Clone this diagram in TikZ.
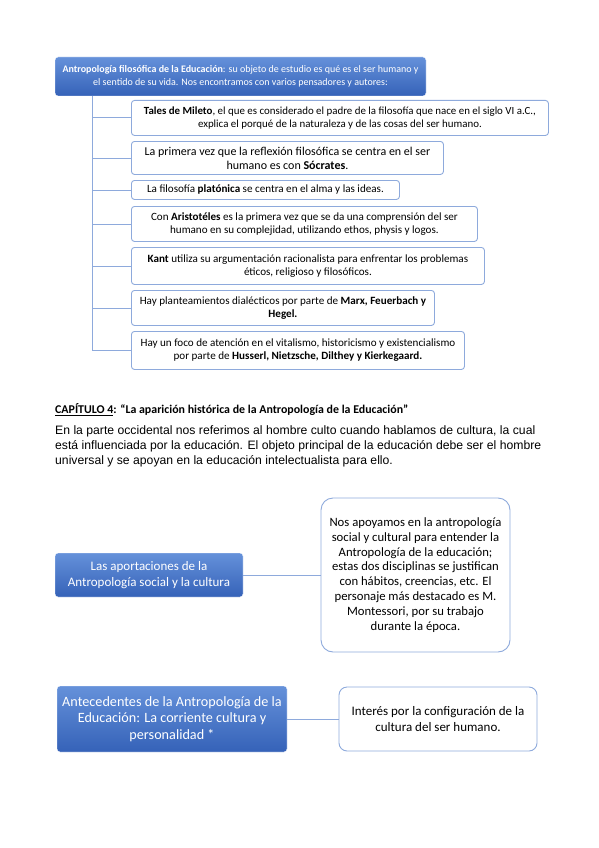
\documentclass[tikz,border=0pt]{standalone}
\usepackage{fontspec}
\setmainfont{Carlito}
\newfontfamily\arialfont{Liberation Sans}
\usetikzlibrary{positioning}
\definecolor{bluetop}{HTML}{6591DA}
\definecolor{bluebot}{HTML}{3562B8}
\definecolor{framec}{HTML}{8EAADC}

\begin{document}
\begin{tikzpicture}[x=1pt,y=-1pt]
\tikzstyle{topic}=[rectangle,rounded corners=3pt,top color=bluetop,bottom color=bluebot,draw=white,text=white,align=center,inner sep=0pt]
\tikzstyle{box}=[rectangle,rounded corners=3pt,draw=framec,line width=0.9pt,fill=white,align=center,inner sep=0pt,anchor=north west,font=\fontsize{11.1}{13}\selectfont]
\tikzstyle{link}=[draw=framec,line width=0.9pt,to path={-| (\tikztotarget) \tikztonodes}]
\tikzstyle{line}=[draw=framec,line width=0.9pt]
\useasboundingbox (0,0) rectangle (599,848);
% author list
\coordinate (spine) at (92,96);
\node [topic,minimum width=371pt,minimum height=39pt,font=\fontsize{10}{13}\selectfont] (n0) at (240.5,76.5) {\textbf{Antropología filosófica de la Educación}: su objeto de estudio es qué es el ser humano y\\el sentido de su vida. Nos encontramos con varios pensadores y autores:};
\node (n1) [box,minimum width=417pt,minimum height=35pt,font=\fontsize{10.9}{13}\selectfont] at (131,100) {\textbf{Tales de Mileto}, el que es considerado el padre de la filosofía que nace en el siglo VI a.C.,\\explica el porqué de la naturaleza y de las cosas del ser humano.} edge [link] (spine);
\node (n2) [box,minimum width=312pt,minimum height=33pt,font=\fontsize{12}{14}\selectfont] at (131,141) {La primera vez que la reflexión filosófica se centra en el ser\\humano es con \textbf{Sócrates}.} edge [link] (spine);
\node (n3) [box,minimum width=268pt,minimum height=19pt] at (131,180) {La filosofía \textbf{platónica} se centra en el alma y las ideas.} edge [link] (spine);
\node (n4) [box,minimum width=346pt,minimum height=35pt] at (131,206) {Con \textbf{Aristotéles} es la primera vez que se da una comprensión del ser\\humano en su complejidad, utilizando ethos, physis y logos.} edge [link] (spine);
\node (n5) [box,minimum width=353pt,minimum height=37pt] at (131,247) {\textbf{Kant} utiliza su argumentación racionalista para enfrentar los problemas\\éticos, religioso y filosóficos.} edge [link] (spine);
\node (n6) [box,minimum width=303pt,minimum height=35pt] at (131,290) {Hay planteamientos dialécticos por parte de \textbf{Marx, Feuerbach y}\\\textbf{Hegel.}} edge [link] (spine);
\node (n7) [box,minimum width=333pt,minimum height=38pt] at (131,331) {Hay un foco de atención en el vitalismo, historicismo y existencialismo\\por parte de \textbf{Husserl, Nietzsche, Dilthey y Kierkegaard.}} edge [link] (spine);
% chapter text
\node [anchor=west,inner sep=0pt,font=\fontsize{11.9}{13}\selectfont\bfseries] (cap) at (55,410) {\underline{CAPÍTULO 4}: “La aparición histórica de la Antropología de la Educación”};
\node [anchor=north west,inner sep=0pt,align=left,font=\arialfont\fontsize{12.2}{15}\selectfont] (par) at (55,425) {En la parte occidental nos referimos al hombre culto cuando hablamos de cultura, la cual\\está influenciada por la educación. El objeto principal de la educación debe ser el hombre\\universal y se apoyan en la educación intelectualista para ello.};
% lower map
\node [topic,minimum width=188pt,minimum height=44pt,font=\fontsize{13}{16}\selectfont] (n8) at (149,575) {Las aportaciones de la\\Antropología social y la cultura};
\node [box,anchor=center,rounded corners=12pt,minimum width=189pt,minimum height=154pt,font=\fontsize{12.7}{14.9}\selectfont] (n9) at (415.5,575) {Nos apoyamos en la antropología\\social y cultural para entender la\\Antropología de la educación;\\estas dos disciplinas se justifican\\con hábitos, creencias, etc. El\\personaje más destacado es M.\\Montessori, por su trabajo\\durante la época.} edge [line] (n8);
\node [topic,minimum width=230pt,minimum height=66pt,font=\fontsize{14.2}{16.5}\selectfont] (n10) at (172,719) {Antecedentes de la Antropología de la\\Educación: La corriente cultura y\\personalidad *};
\node [box,anchor=center,rounded corners=8pt,minimum width=198pt,minimum height=64pt,font=\fontsize{13}{16}\selectfont] (n11) at (438,719) {Interés por la configuración de la\\cultura del ser humano.} edge [line] (n10);
\end{tikzpicture}
\end{document}
